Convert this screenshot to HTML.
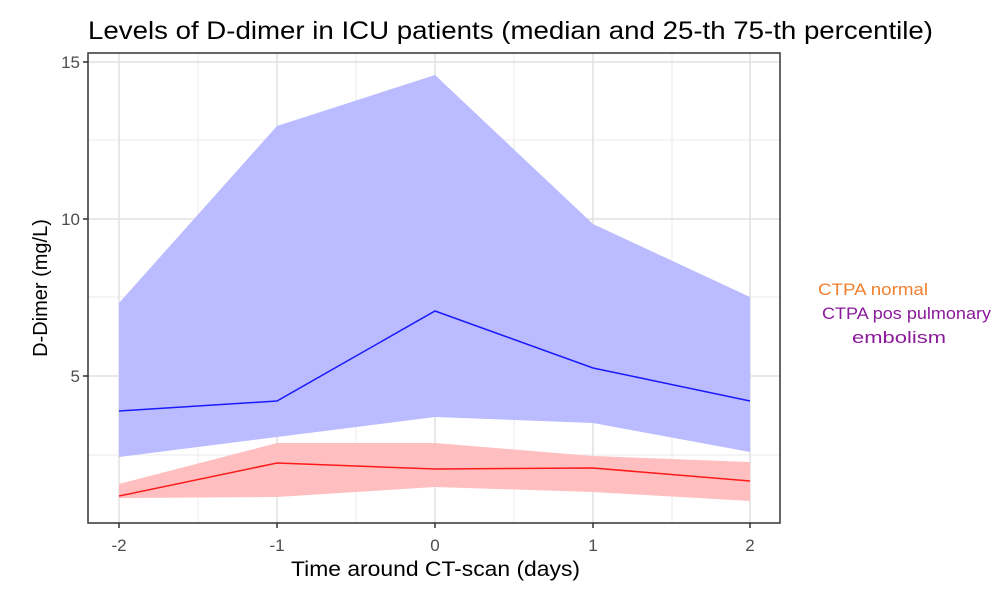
<!DOCTYPE html>
<html><head><meta charset="utf-8"><style>body{margin:0;background:#fff}svg{display:block}</style></head><body>
<svg width="1000" height="597" xmlns="http://www.w3.org/2000/svg" font-family="Liberation Sans, sans-serif">
<rect width="1000" height="597" fill="#fff"/>
<text x="88" y="39" font-size="25" fill="#000" textLength="845" lengthAdjust="spacingAndGlyphs">Levels of D-dimer in ICU patients (median and 25-th 75-th percentile)</text>
<g stroke="#ebebeb" stroke-width="1">
<line x1="88" x2="780" y1="140" y2="140"/><line x1="88" x2="780" y1="297" y2="297"/><line x1="88" x2="780" y1="455" y2="455"/>
<line x1="198" x2="198" y1="53" y2="523"/><line x1="356" x2="356" y1="53" y2="523"/><line x1="514" x2="514" y1="53" y2="523"/><line x1="672" x2="672" y1="53" y2="523"/>
</g>
<g stroke="#e0e0e0" stroke-width="1.5">
<line x1="88" x2="780" y1="62" y2="62"/><line x1="88" x2="780" y1="219" y2="219"/><line x1="88" x2="780" y1="376" y2="376"/>
<line x1="119" x2="119" y1="53" y2="523"/><line x1="277" x2="277" y1="53" y2="523"/><line x1="435" x2="435" y1="53" y2="523"/><line x1="593" x2="593" y1="53" y2="523"/><line x1="750" x2="750" y1="53" y2="523"/>
</g>
<polygon points="119,303 277,126 435,75 593,224 750,297 750,452 593,423 435,417 277,437 119,457" fill="#bbbbff"/>
<polygon points="119,484 277,443 435,443 593,456 750,462 750,501 593,492 435,487 277,497 119,498" fill="#ffbfc0"/>
<polyline points="119,411 277,401 435,311 593,368 750,401" fill="none" stroke="#1a1aff" stroke-width="1.5"/>
<polyline points="119,496 277,463 435,469 593,468 750,481" fill="none" stroke="#ff1a1a" stroke-width="1.5"/>
<rect x="88" y="53" width="692" height="470" fill="none" stroke="#333" stroke-width="1.5"/>
<g stroke="#333" stroke-width="1.5">
<line x1="83" x2="88" y1="62" y2="62"/><line x1="83" x2="88" y1="219" y2="219"/><line x1="83" x2="88" y1="376" y2="376"/>
<line x1="119" x2="119" y1="523" y2="528"/><line x1="277" x2="277" y1="523" y2="528"/><line x1="435" x2="435" y1="523" y2="528"/><line x1="593" x2="593" y1="523" y2="528"/><line x1="750" x2="750" y1="523" y2="528"/>
</g>
<g font-size="17" fill="#4d4d4d" text-anchor="end">
<text x="80" y="68">15</text><text x="80" y="225">10</text><text x="80" y="382">5</text>
</g>
<g font-size="17" fill="#4d4d4d" text-anchor="middle">
<text x="119" y="551">-2</text><text x="277" y="551">-1</text><text x="435" y="551">0</text><text x="593" y="551">1</text><text x="750" y="551">2</text>
</g>
<text x="291" y="576" font-size="21" fill="#000" textLength="289" lengthAdjust="spacingAndGlyphs">Time around CT-scan (days)</text>
<text transform="translate(47,288) rotate(-90)" font-size="20" text-anchor="middle" fill="#000">D-Dimer (mg/L)</text>
<text x="818" y="295" font-size="17" fill="#f08030" textLength="110" lengthAdjust="spacingAndGlyphs">CTPA  normal</text>
<text x="822" y="319" font-size="17" fill="#8a1a9a" textLength="169" lengthAdjust="spacingAndGlyphs">CTPA pos pulmonary</text>
<text x="852" y="343" font-size="17" fill="#8a1a9a" textLength="94" lengthAdjust="spacingAndGlyphs">embolism</text>
</svg>
</body></html>
